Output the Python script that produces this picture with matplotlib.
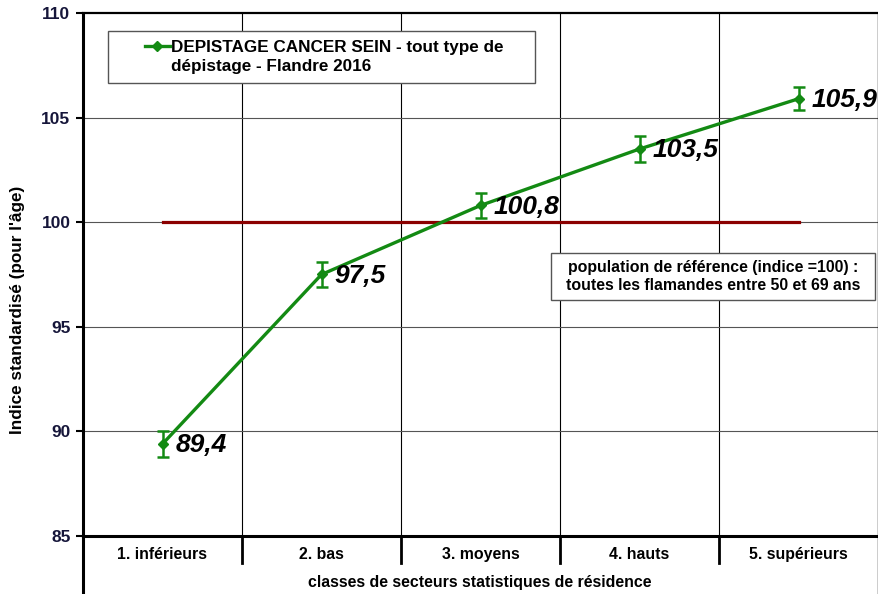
import matplotlib
matplotlib.use("Agg")
import matplotlib.pyplot as plt
from matplotlib.lines import Line2D
from matplotlib.patches import Rectangle

plt.rcParams['font.family'] = ['Liberation Sans', 'DejaVu Sans']

categories = ["1. inférieurs", "2. bas", "3. moyens", "4. hauts", "5. supérieurs"]
values = [89.4, 97.5, 100.8, 103.5, 105.9]
errors = [0.6, 0.6, 0.6, 0.6, 0.55]
value_labels = ["89,4", "97,5", "100,8", "103,5", "105,9"]
reference_value = 100
yticks = [85, 90, 95, 100, 105, 110]
series_name = "DEPISTAGE CANCER SEIN - tout type de\ndépistage - Flandre 2016"
ref_note = "population de référence (indice =100) :\ntoutes les flamandes entre 50 et 69 ans"
ylabel = "Indice standardisé (pour l'âge)"
xlabel = "classes de secteurs statistiques de résidence"

W, H = 879, 594
fig = plt.figure(figsize=(W / 100, H / 100), dpi=100)
L, R, T, B = 83, 878, 13, 536
ax = fig.add_axes([L / W, 1 - B / H, (R - L) / W, (B - T) / H])

n = len(categories)
xs = [i + 0.5 for i in range(n)]
ax.set_xlim(0, n)
ax.set_ylim(85, 110)

# grid
for k in range(1, n):
    ax.axvline(k, color='black', lw=0.8, zorder=1)
for yv in yticks[1:-1]:
    ax.axhline(yv, color='#555555', lw=0.8, zorder=1)

# reference line
ax.plot([xs[0], xs[-1]], [reference_value, reference_value], color='#8B0000', lw=2.3, zorder=2)

green = '#138a13'
ax.errorbar(xs, values, yerr=errors, color=green, lw=2.4, marker='D', ms=5,
            ecolor=green, elinewidth=1.8, capsize=4, capthick=1.8, zorder=3)

for x, v, lab in zip(xs, values, value_labels):
    ax.text(x + 0.08, v - 0.05, lab, fontsize=19, fontweight='bold', fontstyle='italic',
            ha='left', va='center', color='black', zorder=4, clip_on=False)

# spines
ax.spines['left'].set_linewidth(2.2)
ax.spines['bottom'].set_linewidth(2.2)
ax.spines['top'].set_linewidth(1.6)
ax.spines['right'].set_linewidth(1.0)
for s in ax.spines.values():
    s.set_color('black')

ax.set_yticks(yticks)
ax.set_yticklabels([str(t) for t in yticks], fontsize=12.5, fontweight='bold', color='#16163a')
ax.tick_params(axis='y', direction='out', length=5, width=1.5, pad=4, color='black')
ax.set_xticks([])

def fy(py):
    return 1 - py / H
def fx(px):
    return px / W

for k in range(1, n):
    px = L + (R - L) * k / n
    fig.add_artist(Line2D([fx(px), fx(px)], [fy(536), fy(563)], color='black', lw=2.0))
fig.add_artist(Line2D([fx(L), fx(L)], [fy(536), fy(593)], color='black', lw=2.2))
fig.add_artist(Line2D([fx(R), fx(R)], [fy(536), fy(594)], color='black', lw=1.0))

for i, c in enumerate(categories):
    px = L + (R - L) * (i + 0.5) / n
    fig.text(fx(px), fy(553), c, fontsize=11.4, fontweight='bold', ha='center',
             va='center_baseline')

fig.text(fx(480), fy(581), xlabel, fontsize=11.4, fontweight='bold', ha='center',
         va='center_baseline')
fig.text(fx(18), fy(310), ylabel, fontsize=12.3, fontweight='bold', ha='center', va='center',
         rotation=90)

# legend box
fig.add_artist(Rectangle((fx(108), fy(83)), fx(535) - fx(108), fy(31) - fy(83),
                         facecolor='white', edgecolor='#555555', lw=1.0, zorder=5))
fig.add_artist(Line2D([fx(145), fx(170)], [fy(46), fy(46)], color=green, lw=2.4, zorder=6))
fig.add_artist(Line2D([fx(157.5)], [fy(46)], color=green, marker='D', ms=5, zorder=6))
fig.text(fx(171), fy(57), series_name, fontsize=12.3, fontweight='bold', ha='left', va='center',
         linespacing=1.3, zorder=6)

# reference note box
fig.add_artist(Rectangle((fx(551), fy(300)), fx(875) - fx(551), fy(253) - fy(300),
                         facecolor='white', edgecolor='#555555', lw=1.0, zorder=5))
fig.text(fx(713), fy(276.5), ref_note, fontsize=11.4, fontweight='bold', ha='center', va='center',
         linespacing=1.25, zorder=6)

fig.savefig("out.png", dpi=100)
